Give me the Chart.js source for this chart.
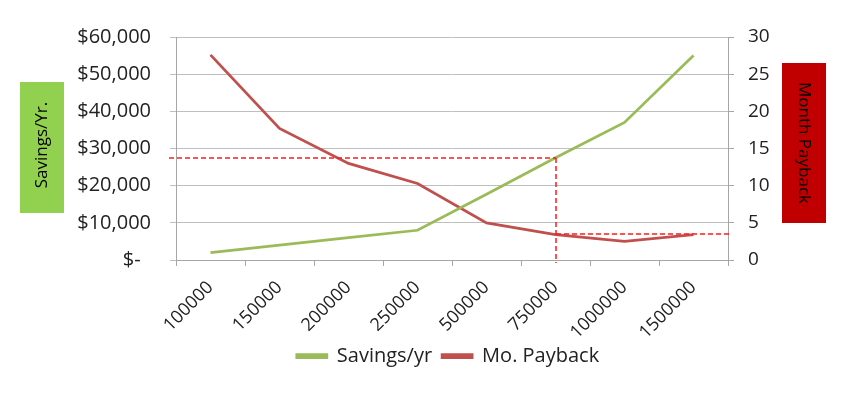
<!DOCTYPE html>
<html>
<head>
<meta charset="utf-8">
<script src="https://cdn.jsdelivr.net/npm/chart.js@4.4.1/dist/chart.umd.min.js"></script>
<style>
  html, body { margin: 0; padding: 0; background: #ffffff; }
  #wrap { width: 860px; height: 398px; position: relative; }
</style>
</head>
<body>
<div id="wrap"><canvas id="c" width="860" height="398"></canvas></div>
<script>
// ---- data ----
const categories = ['100000', '150000', '200000', '250000', '500000', '750000', '1000000', '1500000'];
const savingsPerYear = [2000, 4000, 6000, 8000, 17700, 27500, 37000, 55000];
const monthPayback = [27.6, 17.7, 13.0, 10.3, 5.0, 3.4, 2.5, 3.4];
const savingsTicks = [0, 10000, 20000, 30000, 40000, 50000, 60000];
const paybackTicks = [0, 5, 10, 15, 20, 25, 30];
const refCategory = '750000';
const refSavings = 27500;
const refPayback = 3.5;
const leftTitle = 'Savings/Yr.';
const rightTitle = 'Month Payback';

const GREEN = '#9bbb59';
const RED = '#c0504d';
const FONT = "'Open Sans', 'Liberation Sans', sans-serif";

function money(v) {
  if (v === 0) return '$-  ';
  return '$' + v.toLocaleString('en-US');
}

const refLines = {
  id: 'refLines',
  afterDatasetsDraw(chart) {
    const { ctx, chartArea, scales } = chart;
    const x = Math.round(scales.x.getPixelForValue(categories.indexOf(refCategory)));
    const yS = Math.round(scales.y.getPixelForValue(refSavings));
    const yP = Math.round(scales.y2.getPixelForValue(refPayback));
    ctx.save();
    ctx.strokeStyle = '#ff1a1a';
    ctx.lineWidth = 1.5;
    ctx.setLineDash([5, 3]);
    ctx.beginPath();
    ctx.moveTo(chartArea.left - 7, yS); ctx.lineTo(x, yS);
    ctx.stroke();
    ctx.beginPath();
    ctx.moveTo(x, yS); ctx.lineTo(x, chartArea.bottom + 3);
    ctx.stroke();
    ctx.beginPath();
    ctx.moveTo(x, yP); ctx.lineTo(chartArea.right + 2, yP);
    ctx.stroke();
    ctx.restore();
  }
};

const titleBoxes = {
  id: 'titleBoxes',
  afterDraw(chart) {
    const { ctx } = chart;
    ctx.save();
    ctx.fillStyle = '#92d050';
    ctx.fillRect(20, 82, 44, 131);
    ctx.fillStyle = '#000000';
    ctx.font = '17px ' + FONT;
    ctx.textAlign = 'center';
    ctx.textBaseline = 'middle';
    ctx.translate(42, 145);
    ctx.rotate(-Math.PI / 2);
    ctx.fillText(leftTitle, 0, 0);
    ctx.restore();
    ctx.save();
    ctx.fillStyle = '#c00000';
    ctx.fillRect(782, 63, 44, 160);
    ctx.fillStyle = '#000000';
    ctx.font = '17px ' + FONT;
    ctx.textAlign = 'center';
    ctx.textBaseline = 'middle';
    ctx.translate(804, 143);
    ctx.rotate(Math.PI / 2);
    ctx.fillText(rightTitle, 0, 0);
    ctx.restore();
  }
};

new Chart(document.getElementById('c'), {
  type: 'line',
  data: {
    labels: categories,
    datasets: [
      { label: 'Savings/yr', data: savingsPerYear, yAxisID: 'y', borderColor: GREEN, backgroundColor: GREEN, borderWidth: 2.75, pointRadius: 0, tension: 0 },
      { label: 'Mo. Payback', data: monthPayback, yAxisID: 'y2', borderColor: RED, backgroundColor: RED, borderWidth: 2.75, pointRadius: 0, tension: 0 }
    ]
  },
  options: {
    responsive: false,
    animation: false,
    layout: { padding: { top: 37, left: 36, right: 0, bottom: 22 } },
    plugins: {
      legend: {
        position: 'bottom',
        labels: { font: { family: FONT, size: 20 }, color: '#222', boxWidth: 30, boxHeight: 3, padding: 10 }
      },
      tooltip: { enabled: false }
    },
    scales: {
      x: {
        offset: true,
        grid: { offset: true, drawOnChartArea: false, color: '#a6a6a6', tickLength: 6 },
        border: { color: '#a6a6a6' },
        ticks: { maxRotation: 45, minRotation: 45, font: { family: FONT, size: 18 }, color: '#222', padding: 11 },
        afterFit(s) { s.height = 76; }
      },
      y: {
        position: 'left', min: 0, max: 60000,
        afterBuildTicks(s) { s.ticks = savingsTicks.map(v => ({ value: v })); },
        grid: { color: '#bfbfbf', tickLength: 6 },
        border: { color: '#a6a6a6' },
        ticks: { callback: v => money(v), font: { family: FONT, size: 20 }, color: '#222', padding: 19 },
        afterFit(s) { s.width = 140; }
      },
      y2: {
        position: 'right', min: 0, max: 30,
        afterBuildTicks(s) { s.ticks = paybackTicks.map(v => ({ value: v })); },
        grid: { drawOnChartArea: false, color: '#a6a6a6', tickLength: 6 },
        border: { color: '#a6a6a6' },
        ticks: { font: { family: FONT, size: 19 }, color: '#222', padding: 14 },
        afterFit(s) { s.width = 132; }
      }
    }
  },
  plugins: [refLines, titleBoxes]
});
</script>
</body>
</html>
